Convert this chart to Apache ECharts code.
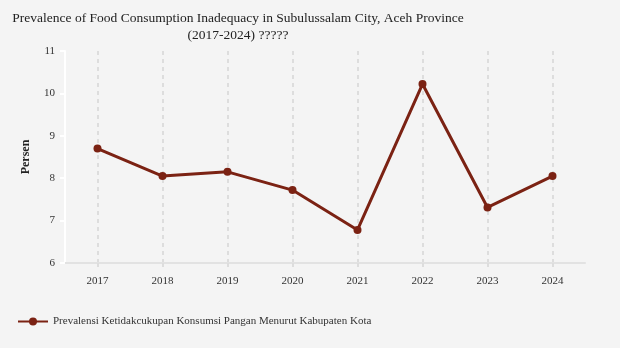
<!DOCTYPE html>
<html><head><meta charset="utf-8">
<script src="https://cdn.jsdelivr.net/npm/echarts@6/dist/echarts.min.js"></script>
<style>html,body{margin:0;padding:0;background:#f4f4f4}#c{width:620px;height:348px}</style>
</head><body><div id="c"></div>
<script>
const categories = ['2017','2018','2019','2020','2021','2022','2023','2024'];
const values = [8.7, 8.05, 8.15, 7.72, 6.78, 10.22, 7.31, 8.05];
const yTicks = [6, 7, 8, 9, 10, 11];
const seriesName = 'Prevalensi Ketidakcukupan Konsumsi Pangan Menurut Kabupaten Kota';
const titleText = 'Prevalence of Food Consumption Inadequacy in Subulussalam City, Aceh Province\n(2017-2024) ?????';

const chart = echarts.init(document.getElementById('c'), null, {renderer:'canvas'});
const serif = '"Liberation Serif", "DejaVu Serif", serif';
chart.setOption({
  backgroundColor: '#f4f4f4',
  animation: false,
  title: {
    text: titleText,
    left: 233, top: 5, textAlign: 'center',
    textStyle: {fontFamily: serif, fontSize: 13.5, fontWeight: 'normal', color: '#222', lineHeight: 17, align: 'center'}
  },
  legend: {
    left: 12, top: 311,
    itemWidth: 30, itemHeight: 10, itemGap: 10,
    textStyle: {fontFamily: serif, fontSize: 11, color: '#333'},
    data: [seriesName]
  },
  grid: {left: 65, right: 35, top: 51, bottom: 85},
  xAxis: {
    type: 'category', data: categories, boundaryGap: true,
    axisLine: {lineStyle: {color: '#e2e2e2', width: 2}},
    axisTick: {show: true, alignWithLabel: true, length: 5, lineStyle: {color: '#dddddd', width: 2, type: [4,4]}},
    axisLabel: {fontFamily: serif, fontSize: 11, color: '#333', margin: 13},
    splitLine: {show: true, alignWithLabel: true, lineStyle: {color: '#dddddd', width: 2, type: [4,4]}}
  },
  yAxis: {
    type: 'value', min: yTicks[0], max: yTicks[yTicks.length-1], interval: 1,
    name: 'Persen', nameLocation: 'middle', nameGap: 33,
    nameTextStyle: {fontFamily: serif, fontSize: 12, fontWeight: 'bold', color: '#222'},
    axisLine: {show: true, lineStyle: {color: '#ffffff', width: 2}},
    axisTick: {show: true, length: 5, lineStyle: {color: '#ffffff', width: 2}},
    axisLabel: {fontFamily: serif, fontSize: 11, color: '#333', margin: 10},
    splitLine: {show: false}
  },
  series: [{
    name: seriesName, type: 'line', data: values,
    symbol: 'circle', symbolSize: 8,
    lineStyle: {color: '#7b2213', width: 3},
    itemStyle: {color: '#7b2213'}
  }]
});
</script></body></html>
